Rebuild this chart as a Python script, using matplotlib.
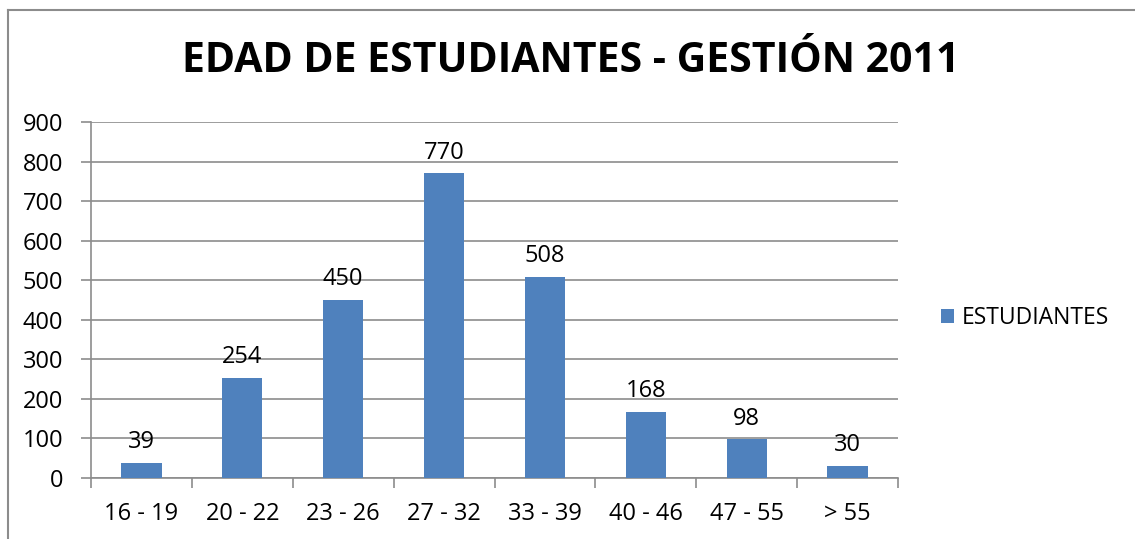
import matplotlib.pyplot as plt
from matplotlib.lines import Line2D

categories = ['16 - 19', '20 - 22', '23 - 26', '27 - 32', '33 - 39', '40 - 46', '47 - 55', '> 55']
estudiantes = [39, 254, 450, 770, 508, 168, 98, 30]
yticks = list(range(0, 1000, 100))

plt.rcParams['font.family'] = ['Open Sans', 'DejaVu Sans']

W, H = 1135, 539
fig = plt.figure(figsize=(W / 100, H / 100), dpi=100)
ax = fig.add_axes([91 / W, 1 - 478 / H, (898 - 91) / W, (478 - 122) / H])

grid_c = '#8c8c8c'
fs = 17
x = list(range(len(categories)))
ax.bar(x, estudiantes, width=0.4, color='#4f81bd', label='ESTUDIANTES', zorder=3)
for xi, v in zip(x, estudiantes):
    ax.text(xi, v + 22, str(v), ha='center', va='bottom', fontsize=fs, zorder=4)

ax.set_xlim(-0.5, len(categories) - 0.5)
ax.set_ylim(0, 900)
ax.set_yticks(yticks)
ax.set_xticks([i - 0.5 for i in range(len(categories) + 1)], minor=False)
ax.set_xticklabels([''] * (len(categories) + 1))
ax.set_xticks(x, minor=True)
ax.set_xticklabels(categories, minor=True)
ax.tick_params(axis='x', which='minor', length=0, pad=17, labelsize=fs)
ax.tick_params(axis='x', which='major', length=7, color=grid_c, width=1.2)
ax.tick_params(axis='y', length=7, color=grid_c, width=1.2, pad=13, labelsize=fs)
ax.grid(axis='y', color=grid_c, linewidth=1.2, zorder=0)
for s in ['top', 'right']:
    ax.spines[s].set_visible(False)
for s in ['left', 'bottom']:
    ax.spines[s].set_color(grid_c)
    ax.spines[s].set_linewidth(1.2)

fig.text(571 / W, 1 - 62 / H, 'EDAD DE ESTUDIANTES - GESTIÓN 2011', ha='center', va='center',
         fontsize=29.5, fontweight='bold')

ax.legend(loc='center left', bbox_to_anchor=(920 / W, 1 - 318 / H), bbox_transform=fig.transFigure,
          frameon=False, fontsize=16.5, handlelength=0.6, handleheight=0.6, handletextpad=0.3)

# chart border
fig.add_artist(Line2D([8 / W, 8 / W], [0, 1 - 10 / H], transform=fig.transFigure, color=grid_c, lw=1.5))
fig.add_artist(Line2D([8 / W, 1], [1 - 10 / H, 1 - 10 / H], transform=fig.transFigure, color=grid_c, lw=1.5))

fig.savefig('out.png', dpi=100)
